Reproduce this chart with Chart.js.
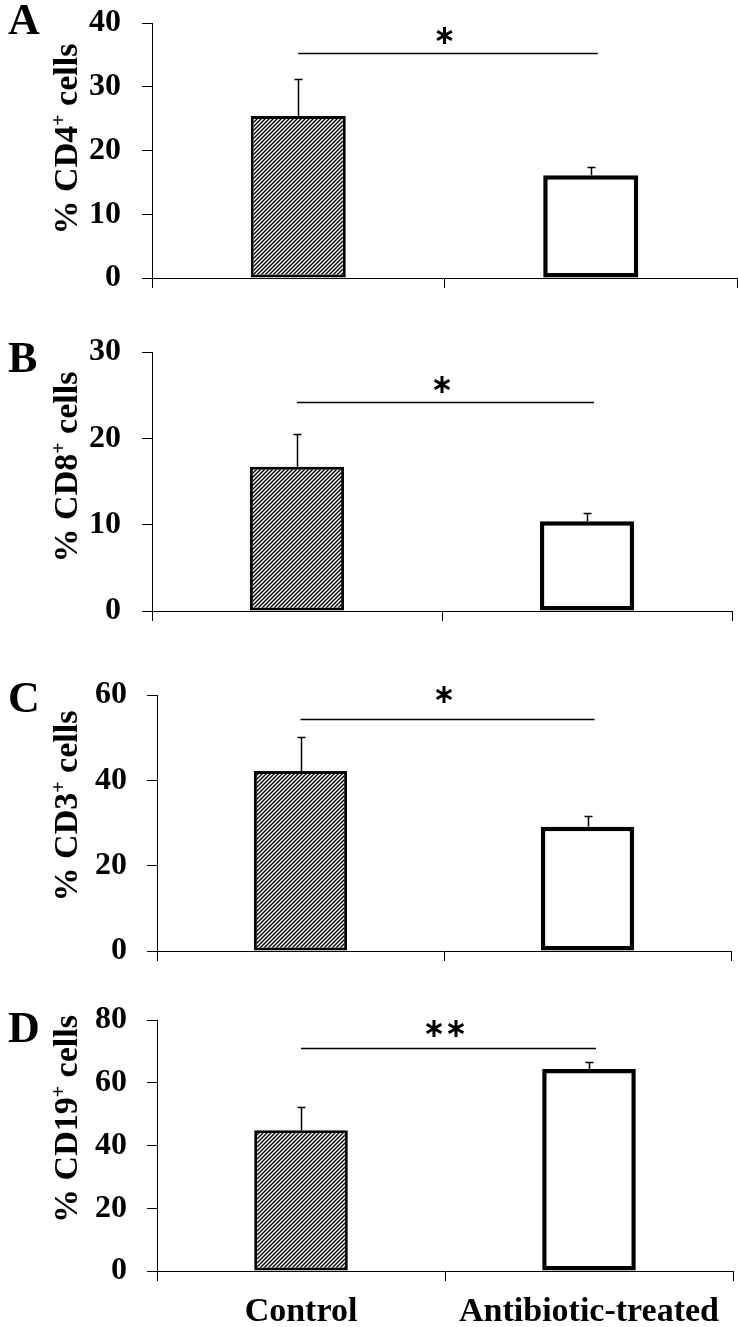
<!DOCTYPE html>
<html lang="en">

<head>
    <meta charset="UTF-8" />
    <title>Lymphocyte subsets: Control vs Antibiotic-treated</title>
    <script src="https://cdn.jsdelivr.net/npm/chart.js"></script>
    <style>
        html, body { margin: 0; padding: 0; background: #fff; }
        #wrap { position: relative; width: 738px; height: 1327px; overflow: hidden; }
        .panel { position: absolute; left: 0; }
    </style>
</head>

<body>
    <div id="wrap">
        <canvas id="panelA" class="panel" width="738" height="310" style="top:0px"></canvas>
        <canvas id="panelB" class="panel" width="738" height="330" style="top:310px"></canvas>
        <canvas id="panelC" class="panel" width="738" height="340" style="top:640px"></canvas>
        <canvas id="panelD" class="panel" width="738" height="347" style="top:980px"></canvas>
    </div>

    <script>
        // data
        const groups = ["Control", "Antibiotic-treated"];
        const cd4Mean = [25.4, 16.1];
        const cd4Err = [5.8, 1.3];
        const cd8Mean = [16.7, 10.4];
        const cd8Err = [3.8, 0.95];
        const cd3Mean = [42.2, 29.1];
        const cd3Err = [8.0, 2.5];
        const cd19Mean = [44.9, 64.4];
        const cd19Err = [7.4, 2.2];
        const yMax = [40, 30, 60, 80];
        const yStep = [10, 10, 20, 20];
        const sigLevel = [35.3, 24.2, 54.4, 71.1];
        const sigMarks = ["*", "*", "*", "**"];
        const letters = ["A", "B", "C", "D"];
        const markers = ["CD4", "CD8", "CD3", "CD19"];

        const means = [cd4Mean, cd8Mean, cd3Mean, cd19Mean];
        const errs = [cd4Err, cd8Err, cd3Err, cd19Err];

        // panel geometry (local canvas pixels)
        const boxes = [
            { id: "panelA", h: 310, left: 152, right: 737, top: 23, bottom: 278, tickPad: 21, titleY: 139, letterY: 34, starGap: 18 },
            { id: "panelB", h: 330, left: 152, right: 732, top: 42, bottom: 301, tickPad: 21, titleY: 157, letterY: 62, starGap: 18 },
            { id: "panelC", h: 340, left: 157, right: 731, top: 55, bottom: 311, tickPad: 20, titleY: 166, letterY: 72, starGap: 25 },
            { id: "panelD", h: 347, left: 157, right: 733, top: 40, bottom: 291, tickPad: 20, titleY: 139, letterY: 62, starGap: 20 }
        ];

        const SERIF = "'Liberation Serif', 'Times New Roman', serif";

        function makeHatch(ctx) {
            const c = document.createElement("canvas");
            c.width = 4; c.height = 4;
            const g = c.getContext("2d");
            g.fillStyle = "#fff";
            g.fillRect(0, 0, 4, 4);
            g.strokeStyle = "#000";
            g.lineWidth = 1.4;
            g.beginPath();
            g.moveTo(0, 4); g.lineTo(4, 0);
            g.moveTo(-1, 1); g.lineTo(1, -1);
            g.moveTo(3, 5); g.lineTo(5, 3);
            g.stroke();
            return ctx.createPattern(c, "repeat");
        }

        function drawStar(ctx, cx, cy, r) {
            ctx.beginPath();
            for (let k = 0; k < 3; k++) {
                const a = Math.PI / 2 + k * Math.PI / 3;
                ctx.moveTo(cx + r * Math.cos(a), cy + r * Math.sin(a));
                ctx.lineTo(cx - r * Math.cos(a), cy - r * Math.sin(a));
            }
            ctx.stroke();
        }

        // error bars, significance bar, panel letter and axis title
        const decor = {
            id: "decor",
            afterDatasetsDraw(chart, args, o) {
                const ctx = chart.ctx;
                const xs = chart.scales.x, ys = chart.scales.y;
                ctx.save();
                ctx.strokeStyle = "#000";
                ctx.fillStyle = "#000";

                // upward error bars
                ctx.lineWidth = 1.5;
                o.mean.forEach((m, i) => {
                    const px = Math.round(xs.getPixelForValue(i)) + 0.5;
                    const y0 = ys.getPixelForValue(m);
                    const y1 = Math.round(ys.getPixelForValue(m + o.err[i])) + 0.5;
                    ctx.beginPath();
                    ctx.moveTo(px, y0);
                    ctx.lineTo(px, y1);
                    ctx.moveTo(px - 4, y1);
                    ctx.lineTo(px + 4, y1);
                    ctx.stroke();
                });

                // significance line + stars
                const ly = Math.round(ys.getPixelForValue(o.sig)) + 0.5;
                ctx.lineWidth = 1.5;
                ctx.beginPath();
                ctx.moveTo(xs.getPixelForValue(0), ly);
                ctx.lineTo(xs.getPixelForValue(1) + 7, ly);
                ctx.stroke();
                const mid = (xs.getPixelForValue(0) + xs.getPixelForValue(1)) / 2;
                const n = o.mark.length;
                ctx.lineWidth = 3;
                for (let k = 0; k < n; k++) {
                    const sx = mid + (k - (n - 1) / 2) * 22;
                    drawStar(ctx, sx, ly - o.starGap, 8.5);
                }

                // panel letter
                ctx.font = "bold 44px " + SERIF;
                ctx.textAlign = "left";
                ctx.textBaseline = "alphabetic";
                ctx.fillText(o.letter, 8, o.letterY);

                // rotated y title with superscript +
                ctx.translate(66, o.titleY);
                ctx.rotate(-Math.PI / 2);
                const big = "bold 34px " + SERIF, small = "bold 20px " + SERIF;
                const p1 = "% " + o.marker, p3 = " cells";
                ctx.font = big;
                const w1 = ctx.measureText(p1).width, w3 = ctx.measureText(p3).width;
                ctx.font = small;
                const w2 = ctx.measureText("+").width;
                let tx = -(w1 + w2 + w3) / 2;
                ctx.font = big;
                ctx.fillText(p1, tx, 11);
                tx += w1;
                ctx.font = small;
                ctx.fillText("+", tx, -1);
                tx += w2;
                ctx.font = big;
                ctx.fillText(p3, tx, 11);
                ctx.restore();
            }
        };

        boxes.forEach((b, p) => {
            const canvas = document.getElementById(b.id);
            const ctx = canvas.getContext("2d");
            const last = p === boxes.length - 1;
            new Chart(ctx, {
                type: "bar",
                data: {
                    labels: groups,
                    datasets: [{
                        data: means[p],
                        backgroundColor: [makeHatch(ctx), "#ffffff"],
                        borderColor: "#000",
                        borderWidth: [3, 4.5],
                        borderSkipped: false,
                        barPercentage: 0.325,
                        categoryPercentage: 1
                    }]
                },
                options: {
                    responsive: false,
                    animation: false,
                    layout: {
                        autoPadding: false,
                        padding: { left: 0, top: b.top, right: 738 - b.right, bottom: 0 }
                    },
                    scales: {
                        x: {
                            afterFit: s => {
                                s.height = b.h - b.bottom;
                                s.paddingLeft = 0; s.paddingRight = 0;
                            },
                            grid: { offset: true, drawOnChartArea: false, drawTicks: true, tickLength: 10, color: "#000", lineWidth: 1 },
                            border: { display: true, color: "#000", width: 1 },
                            ticks: {
                                display: last,
                                color: "#000",
                                padding: 11,
                                font: { family: SERIF, size: 34, weight: "bold" }
                            }
                        },
                        y: {
                            min: 0,
                            max: yMax[p],
                            // keep the plot box where the figure has it
                            afterFit: s => {
                                s.width = b.left;
                                s.paddingTop = 0; s.paddingBottom = 0;
                            },
                            grid: { drawOnChartArea: false, drawTicks: true, tickLength: 10, color: "#000", lineWidth: 1 },
                            border: { display: true, color: "#000", width: 1 },
                            ticks: {
                                stepSize: yStep[p],
                                color: "#000",
                                padding: b.tickPad,
                                font: { family: SERIF, size: 32, weight: "bold" }
                            }
                        }
                    },
                    plugins: {
                        legend: { display: false },
                        tooltip: { enabled: false },
                        decor: {
                            mean: means[p],
                            err: errs[p],
                            sig: sigLevel[p],
                            mark: sigMarks[p],
                            letter: letters[p],
                            marker: markers[p],
                            titleY: b.titleY,
                            letterY: b.letterY,
                            starGap: b.starGap
                        }
                    }
                },
                plugins: [decor]
            });
        });
    </script>
</body>

</html>
